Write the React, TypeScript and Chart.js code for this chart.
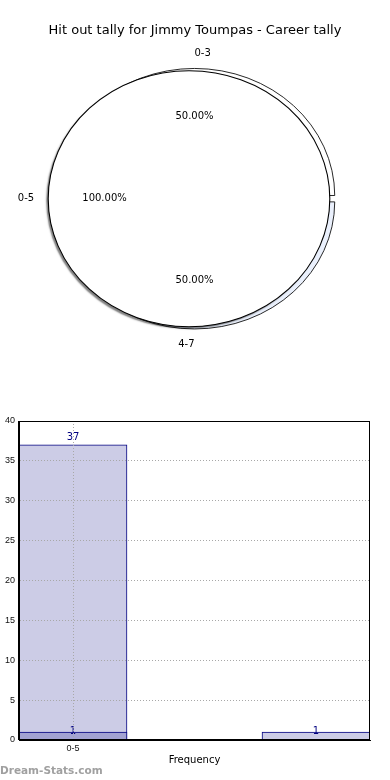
import React, { useEffect, useRef } from 'react';
import { Chart, registerables } from 'chart.js';

Chart.register(...registerables);

// ---------- data ----------
const TITLE = 'Hit out tally for Jimmy Toumpas - Career tally';
const WATERMARK = 'Dream-Stats.com';

const outerLabels = ['0-3', '4-7'];
const outerValues = [1, 1];
const innerLabels = ['0-5'];
const innerValues = [1];

const barCategories = ['0-5'];
const lightPositions = [0, 1.8];
const lightValues = [37, 1];
const darkPositions = [0];
const darkValues = [1];
const yTickValues = [0, 5, 10, 15, 20, 25, 30, 35, 40];
const xAxisTitle = 'Frequency';

// ---------- helpers ----------
const SX = 1.1; // horizontal stretch of the pies (elliptical look)

function arcGeometry(arc: any) {
  const off = (arc.options.offset || 0) / 4;
  const fix = 1 - Math.sin(Math.min(Math.PI, arc.circumference || 0));
  return { shift: off * (1 + fix), radius: arc.outerRadius + off * fix };
}

function drawPieLabels(ctx: CanvasRenderingContext2D, chart: any, sx: number) {
  const meta = chart.getDatasetMeta(0);
  const data = chart.data.datasets[0].data as number[];
  const labels = chart.data.labels as string[];
  const total = data.reduce((a, b) => a + b, 0);
  ctx.save();
  ctx.fillStyle = '#000';
  ctx.font = '10px "DejaVu Sans"';
  ctx.textBaseline = 'middle';
  meta.data.forEach((arc: any, i: number) => {
    const { x, y, startAngle, endAngle } = arc;
    const { shift, radius } = arcGeometry(arc);
    const mid = (startAngle + endAngle) / 2;
    const c = Math.cos(mid);
    const s = Math.sin(mid);
    const at = (d: number) => [x + sx * c * (shift + d * radius), y + s * (shift + d * radius)];
    let mpl = (-mid) % (Math.PI * 2);
    if (mpl < 0) mpl += Math.PI * 2;
    const mc = Math.cos(mpl);
    let align: CanvasTextAlign;
    if (mc > 1e-9) align = 'left';
    else if (mc < -1e-9) align = 'right';
    else align = Math.sin(mpl) > 0 ? 'left' : 'right';
    const [lx, ly] = at(1.1);
    ctx.textAlign = align;
    ctx.fillText(labels[i], lx, ly);
    const [px, py] = at(0.6);
    ctx.textAlign = 'center';
    ctx.fillText(((data[i] / total) * 100).toFixed(2) + '%', px, py);
  });
  ctx.restore();
}

function makePiePlugin(sx: number, shadow: boolean, outline: boolean, labelCharts: () => any[]) {
  return {
    id: 'pieDecor',
    beforeDatasetsDraw(chart: any) {
      const ctx = chart.ctx;
      const { left, right } = chart.chartArea;
      const cx = (left + right) / 2;
      ctx.save();
      if (shadow) {
        ctx.shadowColor = 'rgba(0,0,0,0.5)';
        ctx.shadowOffsetX = -2;
        ctx.shadowOffsetY = 2;
        ctx.shadowBlur = 1.5;
      }
      ctx.translate(cx, 0);
      ctx.scale(sx, 1);
      ctx.translate(-cx, 0);
    },
    afterDatasetsDraw(chart: any) {
      const ctx = chart.ctx;
      if (outline) {
        ctx.shadowColor = 'rgba(0,0,0,0)';
        const meta = chart.getDatasetMeta(0);
        meta.data.forEach((arc: any) => {
          ctx.beginPath();
          ctx.arc(arc.x, arc.y, arc.outerRadius, 0, Math.PI * 2);
          ctx.lineWidth = 1;
          ctx.strokeStyle = '#000';
          ctx.stroke();
        });
      }
      ctx.restore();
    },
    afterDraw(chart: any) {
      // labels are drawn on the front canvas so that the inner pie cannot cover them
      labelCharts().forEach((c) => drawPieLabels(chart.ctx, c === 'self' ? chart : c, sx));
    },
  };
}

const barDecor = {
  id: 'barDecor',
  afterDatasetsDraw(chart: any) {
    const ctx = chart.ctx;
    const yScale = chart.scales.y;
    ctx.save();
    ctx.font = '10px "DejaVu Sans"';
    ctx.fillStyle = '#000080';
    ctx.textAlign = 'center';
    ctx.textBaseline = 'middle';
    chart.data.datasets.forEach((ds: any, di: number) => {
      const meta = chart.getDatasetMeta(di);
      meta.data.forEach((bar: any, i: number) => {
        const v = ds.data[i].y;
        ctx.fillText(String(v), bar.x, yScale.getPixelForValue(v * 1.025));
      });
    });
    ctx.restore();
  },
  afterDraw(chart: any) {
    const ctx = chart.ctx;
    const { left, right, top, bottom } = chart.chartArea;
    ctx.save();
    ctx.strokeStyle = '#000';
    ctx.lineWidth = 1;
    const l = Math.round(left) - 0.5;
    const r = Math.round(right) - 0.5;
    const t = Math.round(top) + 0.5;
    const b = Math.round(bottom) - 0.5;
    ctx.strokeRect(l, t, r - l, b - t);
    ctx.restore();
  },
};

// ---------- components ----------
function Pies() {
  const backRef = useRef<HTMLCanvasElement>(null);
  const frontRef = useRef<HTMLCanvasElement>(null);
  useEffect(() => {
    const outer = new Chart(backRef.current!, {
      type: 'pie',
      data: {
        labels: outerLabels,
        datasets: [
          {
            data: outerValues,
            backgroundColor: ['#ffffff', '#eaf0fc'],
            borderColor: '#000',
            borderWidth: 0.8,
            offset: 11,
          } as any,
        ],
      },
      options: {
        responsive: false,
        animation: false,
        events: [],
        rotation: -90,
        radius: 124.75,
        layout: { padding: { left: 0, right: 1, top: 0, bottom: 2.6 } },
        plugins: { legend: { display: false }, tooltip: { enabled: false } },
      } as any,
      plugins: [makePiePlugin(SX, false, false, () => [])],
    });
    const inner = new Chart(frontRef.current!, {
      type: 'pie',
      data: {
        labels: innerLabels,
        datasets: [
          {
            data: innerValues,
            backgroundColor: '#ffffff',
            borderWidth: 0,
          } as any,
        ],
      },
      options: {
        responsive: false,
        animation: false,
        events: [],
        rotation: 90,
        radius: 128,
        layout: { padding: { left: 0, right: 12, top: 0, bottom: 2.6 } },
        plugins: { legend: { display: false }, tooltip: { enabled: false } },
      } as any,
      plugins: [makePiePlugin(SX, true, true, () => [outer, 'self'])],
    });
    return () => {
      inner.destroy();
      outer.destroy();
    };
  }, []);
  return (
    <>
      <canvas ref={backRef} width={390} height={400} style={{ position: 'absolute', left: 0, top: 0 }} />
      <canvas ref={frontRef} width={390} height={400} style={{ position: 'absolute', left: 0, top: 0 }} />
    </>
  );
}

function BarChart() {
  const ref = useRef<HTMLCanvasElement>(null);
  useEffect(() => {
    const tickFont = { family: '"Liberation Sans", "DejaVu Sans", sans-serif', size: 9 };
    const gridStyle = { offset: false, color: '#a8a8a8', lineWidth: 1, drawTicks: false, z: 1 };
    const chart = new Chart(ref.current!, {
      type: 'bar',
      data: {
        datasets: [
          {
            label: 'light',
            data: lightPositions.map((x, i) => ({ x, y: lightValues[i] })),
            backgroundColor: '#ccccE6',
            borderColor: '#000080',
            borderWidth: 1,
            grouped: false,
            order: 2,
            barThickness: 108,
          } as any,
          {
            label: 'dark',
            data: darkPositions.map((x, i) => ({ x, y: darkValues[i] })),
            backgroundColor: '#a3a3d2',
            borderColor: '#000080',
            borderWidth: 1,
            grouped: false,
            order: 1,
            barThickness: 108,
          } as any,
        ],
      },
      options: {
        responsive: false,
        animation: false,
        events: [],
        layout: { padding: { left: 0, right: 20, top: 11, bottom: 0 } },
        plugins: { legend: { display: false }, tooltip: { enabled: false } },
        scales: {
          x: {
            type: 'linear',
            min: -0.4,
            max: 2.2,
            offset: false,
            grid: gridStyle,
            border: { color: '#000', width: 1, dash: [1, 2], z: 2 },
            afterBuildTicks: (s: any) => {
              s.ticks = barCategories.map((_, i) => ({ value: i }));
            },
            ticks: {
              callback: (_v: any, i: number) => barCategories[i],
              font: tickFont,
              color: '#111',
              padding: 3,
              maxRotation: 0,
              autoSkip: false,
            },
            title: {
              display: true,
              text: xAxisTitle,
              color: '#000',
              font: { family: '"DejaVu Sans"', size: 10 },
              padding: { top: 0, bottom: 14 },
            },
            afterFit: (s: any) => {
              s.height = 40;
            },
          },
          y: {
            min: 0,
            max: 40,
            grid: gridStyle,
            border: { color: '#000', width: 1, dash: [1, 2], z: 2 },
            afterBuildTicks: (s: any) => {
              s.ticks = yTickValues.map((v) => ({ value: v }));
            },
            ticks: { font: tickFont, color: '#111', padding: 4 },
            afterFit: (s: any) => {
              s.width = 19;
            },
          },
        },
      } as any,
      plugins: [barDecor],
    });
    return () => chart.destroy();
  }, []);
  return <canvas ref={ref} width={390} height={370} style={{ position: 'absolute', left: 0, top: 410 }} />;
}

export default function App() {
  return (
    <div
      style={{
        position: 'absolute',
        left: 0,
        top: 0,
        width: 390,
        height: 780,
        background: '#fff',
        overflow: 'hidden',
      }}
    >
      <Pies />
      <div
        style={{
          position: 'absolute',
          left: 0,
          top: 22,
          width: 390,
          textAlign: 'center',
          fontFamily: '"DejaVu Sans", sans-serif',
          fontSize: 13,
          lineHeight: '16px',
          color: '#000',
        }}
      >
        {TITLE}
      </div>
      <BarChart />
      <div
        style={{
          position: 'absolute',
          left: 0,
          top: 763,
          fontFamily: '"DejaVu Sans", sans-serif',
          fontWeight: 'bold',
          fontSize: 10.5,
          lineHeight: '14px',
          color: '#a0a0a0',
        }}
      >
        {WATERMARK}
      </div>
    </div>
  );
}
